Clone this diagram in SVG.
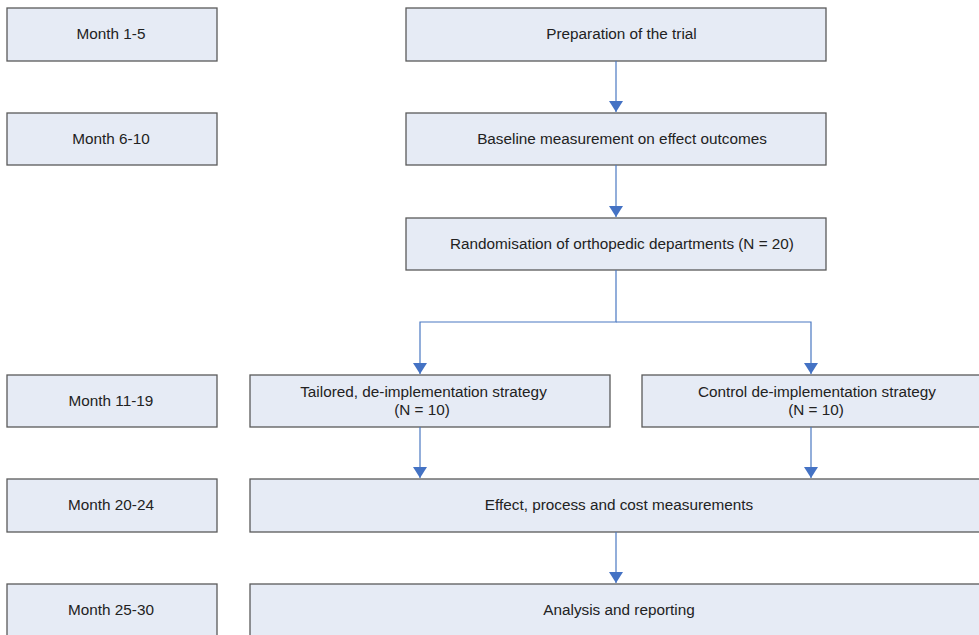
<svg xmlns="http://www.w3.org/2000/svg" width="979" height="635" viewBox="0 0 979 635">
<defs>
<style>
.box{fill:#e6ebf5;stroke:#5a5a5a;stroke-width:1.3}
.t{font-family:"Liberation Sans",Arial,sans-serif;font-size:15.3px;fill:#222;text-anchor:middle}
.c{fill:none;stroke:#4a78c2;stroke-width:1.2}
</style>
<marker id="ah" viewBox="0 0 11 14" refX="11" refY="7" markerWidth="11" markerHeight="14" markerUnits="userSpaceOnUse" orient="auto">
<path d="M0,0 L11,7 L0,14 Z" fill="#4472c4"/>
</marker>
</defs>
<rect width="979" height="635" fill="#fff"/>
<g id="m1"><rect class="box" x="7" y="8" width="210" height="53"/><text class="t" x="111" y="38.5">Month 1-5</text></g>
<g id="m2"><rect class="box" x="7" y="113" width="210" height="52"/><text class="t" x="111" y="143.5">Month 6-10</text></g>
<g id="m3"><rect class="box" x="7" y="375" width="210" height="52"/><text class="t" x="111" y="405.5">Month 11-19</text></g>
<g id="m4"><rect class="box" x="7" y="479" width="210" height="53"/><text class="t" x="111" y="509.5">Month 20-24</text></g>
<g id="m5"><rect class="box" x="7" y="584" width="210" height="60"/><text class="t" x="111" y="614.5">Month 25-30</text></g>
<g id="prep"><rect class="box" x="406" y="8" width="420" height="53"/><text class="t" x="621.5" y="38.5">Preparation of the trial</text></g>
<g id="base"><rect class="box" x="406" y="113" width="420" height="52"/><text class="t" x="622" y="143.5">Baseline measurement on effect outcomes</text></g>
<g id="rand"><rect class="box" x="406" y="218" width="420" height="52"/><text class="t" x="622" y="248.5">Randomisation of orthopedic departments (N = 20)</text></g>
<g id="tail"><rect class="box" x="250" y="375" width="360" height="52"/><text class="t" x="423.5" y="396.5">Tailored, de-implementation strategy</text><text class="t" x="422" y="414.5">(N = 10)</text></g>
<g id="ctrl"><rect class="box" x="642" y="375" width="345" height="52"/><text class="t" x="817" y="396.5">Control de-implementation strategy</text><text class="t" x="816" y="414.5">(N = 10)</text></g>
<g id="eff"><rect class="box" x="250" y="479" width="740" height="53"/><text class="t" x="619" y="509.5">Effect, process and cost measurements</text></g>
<g id="ana"><rect class="box" x="250" y="584" width="740" height="60"/><text class="t" x="619" y="614.5">Analysis and reporting</text></g>
<g id="connectors">
<path class="c" d="M616,61 V112" marker-end="url(#ah)"/>
<path class="c" d="M616,165 V217" marker-end="url(#ah)"/>
<path class="c" d="M616,270 V322 H420 V374" marker-end="url(#ah)"/>
<path class="c" d="M616,322 H811 V374" marker-end="url(#ah)"/>
<path class="c" d="M420,427 V478" marker-end="url(#ah)"/>
<path class="c" d="M811,427 V478" marker-end="url(#ah)"/>
<path class="c" d="M616,532 V583" marker-end="url(#ah)"/>
</g>
</svg>
